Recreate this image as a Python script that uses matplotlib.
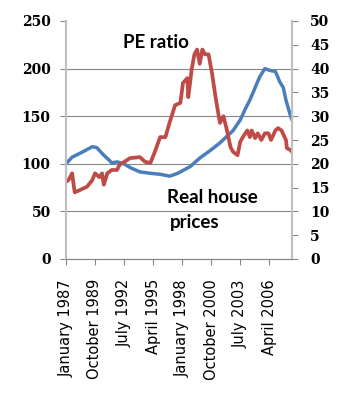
import matplotlib
matplotlib.use("Agg")
import matplotlib.pyplot as plt

# Month offsets counted from January 1987
house_months = [0, 7, 18, 30, 35, 43, 49, 52, 58, 66, 73, 84, 96, 107, 118, 127,
                141, 152, 164, 175, 190, 198, 204, 209, 215, 220, 226, 232, 238,
                243, 247, 250, 255, 257]
house_index = [100, 107, 112, 118, 117, 109, 104, 101, 102, 100, 96, 91.5, 90, 89,
               87, 90, 97, 106, 114, 122, 135, 146, 158, 167, 180, 191, 200, 198,
               197, 186, 180, 167, 151, 146]

pe_months = [0, 3, 7, 9, 10, 16, 24, 30, 33, 38, 41, 43, 47, 52, 58, 61, 73, 84,
             90, 96, 101, 107, 113, 118, 124, 130, 133, 138, 139, 143, 146, 149,
             152, 155, 158, 162, 166, 170, 173, 175, 179, 183, 187, 190, 195, 198,
             201, 206, 209, 211, 215, 218, 222, 226, 230, 233, 238, 241, 245, 250,
             251, 255, 257]
pe_ratio = [16.2, 16.6, 18, 15.2, 14, 14.5, 15.2, 16.6, 18, 17.2, 18, 15.6, 18,
            18.7, 18.7, 19.8, 21.2, 21.4, 20.4, 20.2, 22.5, 25.6, 25.6, 28.8, 32.3,
            32.8, 37, 38, 34, 40, 43, 44, 41, 44, 43, 43, 39, 34, 30.7, 28.6, 30,
            27, 23.5, 22.5, 21.8, 24.6, 25.6, 27, 25.6, 27, 25.4, 26.4, 25, 26.4,
            26.4, 25, 27, 27.5, 27, 25, 23.3, 22.9, 22.5]

tick_months = [0, 33, 66, 99, 132, 165, 198, 231]
tick_labels = ["January 1987", "October 1989", "July 1992", "April 1995",
               "January 1998", "October 2000", "July 2003", "April 2006"]

BLUE = "#4A7EBB"
RED = "#BE4B48"
GRID = "#868686"
AXIS = "#BFBFBF"

fig = plt.figure(figsize=(3.49, 4.0), dpi=100)
ax = fig.add_axes([0.189, 0.3525, 0.648, 0.595])
ax2 = ax.twinx()

ax.plot(house_months, house_index, color=BLUE, lw=2.5, solid_joinstyle="round")
ax2.plot(pe_months, pe_ratio, color=RED, lw=2.7, solid_joinstyle="round")

ax.set_xlim(0, 257)
ax.set_ylim(0, 250)
ax2.set_ylim(0, 50)
ax.set_yticks(range(0, 251, 50))
ax2.set_yticks(range(0, 51, 5))

for y in (50, 100, 150, 200):
    ax.axhline(y, color=GRID, lw=0.8, zorder=0)

ax.set_xticks(tick_months)
ax.set_xticklabels(tick_labels, rotation=90, fontsize=10.5, family="DejaVu Sans",
                   color="black")

tick_font = dict(family="DejaVu Serif", weight="bold", size=10)
for lab in ax.get_yticklabels():
    lab.set(**tick_font)
for lab in ax2.get_yticklabels():
    lab.set(**tick_font)

for a in (ax, ax2):
    a.spines["top"].set_visible(False)
    a.spines["left"].set_color(AXIS)
    a.spines["right"].set_color(AXIS)
    a.spines["bottom"].set_color(GRID)
    a.spines["left"].set_linewidth(1.5)
    a.spines["right"].set_linewidth(1.5)
ax.tick_params(axis="y", length=4.5, color=GRID, pad=6.5)
ax2.tick_params(axis="y", length=4.5, color=GRID, pad=8.5)
ax.tick_params(axis="x", length=4.5, color=GRID, pad=10)

label_font = dict(family="Lato", weight="bold", size=13.5, color="black")
ax.text(0.252, 0.887, "PE ratio", transform=ax.transAxes, **label_font)
ax.text(0.447, 0.235, "Real house", transform=ax.transAxes, **label_font)
ax.text(0.46, 0.13, "prices", transform=ax.transAxes, **label_font)

fig.savefig("out.png", dpi=100)
